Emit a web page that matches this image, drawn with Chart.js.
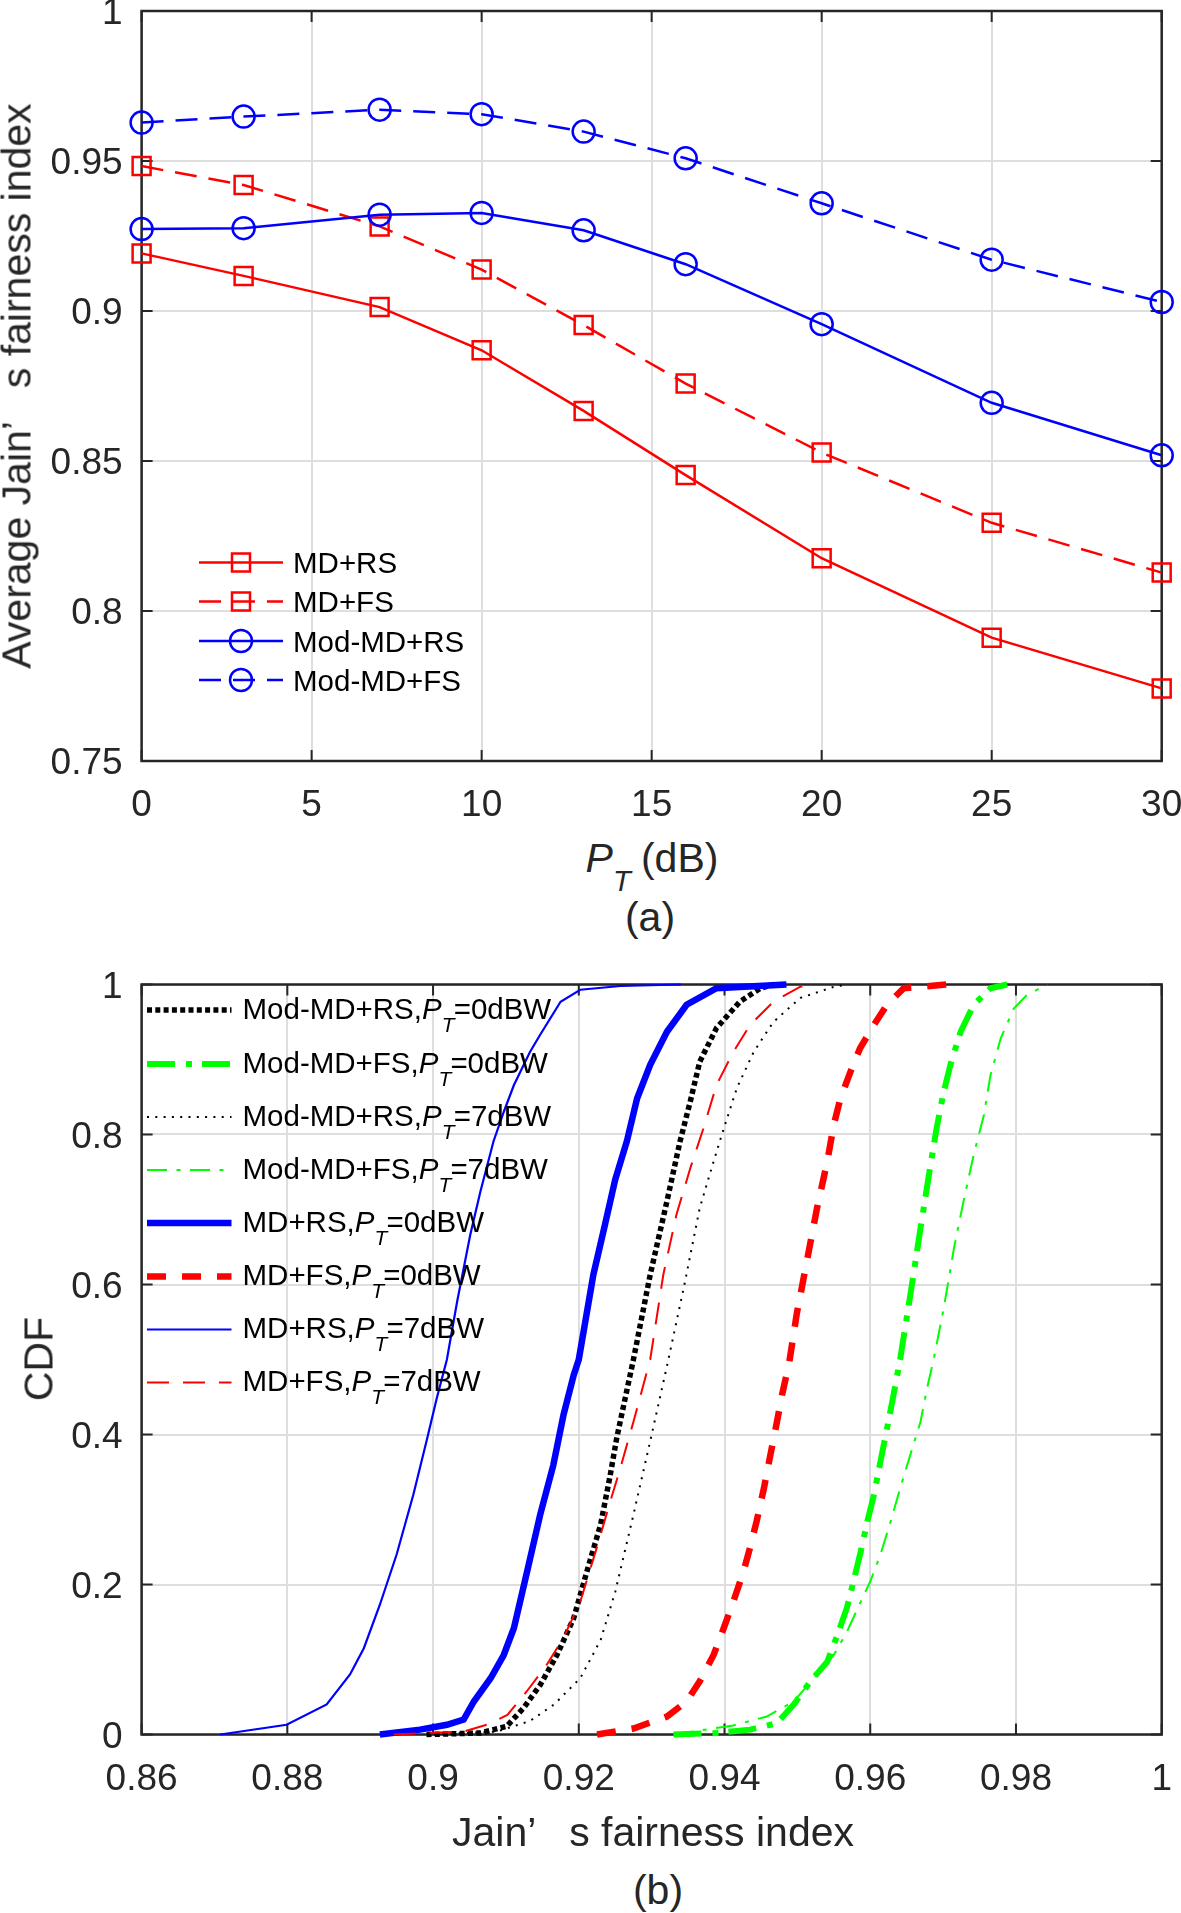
<!DOCTYPE html>
<html>
<head>
<meta charset="utf-8">
<script src="https://cdn.jsdelivr.net/npm/chart.js@4.4.1/dist/chart.umd.min.js"></script>
<style>
  body { margin: 0; background: #fff; }
  #page { position: relative; width: 1181px; height: 1913px; overflow: hidden; font-family: 'Liberation Sans', Arial, sans-serif; }
  canvas { position: absolute; left: 0; }
  .t { position: absolute; white-space: nowrap; line-height: 1; color: #000; }
  .leg { font-size: 29.5px; }
  .ttl { font-size: 41px; color: #262626; }
  .sub { font-style: italic; font-size: 0.71em; position: relative; top: 0.64em; margin-right: -0.04em; }
  .gap { display: inline-block; width: 0.8em; }
</style>
</head>
<body>
<div id="page">
  <canvas id="c1" width="1181" height="830" style="top:0"></canvas>
  <canvas id="c2" width="1181" height="870" style="top:940px"></canvas>

  <div class="t ttl" style="left:17px;top:386px;transform:translate(-50%,-50%) rotate(-90deg)">Average Jain’<span class="gap"></span>s fairness index</div>
  <div class="t ttl" style="left:652px;top:838px;transform:translateX(-50%)"><i>P</i><span class="sub">T</span> (dB)</div>
  <div class="t ttl" style="left:650px;top:897px;transform:translateX(-50%)">(a)</div>

  <div class="t ttl" style="left:39px;top:1359px;transform:translate(-50%,-50%) rotate(-90deg)">CDF</div>
  <div class="t ttl" style="left:653px;top:1812px;transform:translateX(-50%)">Jain’<span class="gap"></span>s fairness index</div>
  <div class="t ttl" style="left:658px;top:1870px;transform:translateX(-50%)">(b)</div>

  <div id="leg1"></div>
  <div id="leg2"></div>
</div>

<script>
const FONT = "'Liberation Sans', Arial, sans-serif"

// ---- (a) average fairness vs P_T ----
const ptValues = [0, 3, 7, 10, 13, 16, 20, 25, 30]
const mdRS = [0.9192, 0.9117, 0.9013, 0.8869, 0.8667, 0.8453, 0.8176, 0.7911, 0.7742]
const mdFS = [0.9483, 0.9420, 0.9282, 0.9138, 0.8953, 0.8758, 0.8528, 0.8294, 0.8128]
const modRS = [0.9273, 0.9276, 0.9321, 0.9327, 0.9269, 0.9156, 0.8956, 0.8694, 0.8519]
const modFS = [0.9628, 0.9648, 0.9671, 0.9656, 0.9598, 0.9509, 0.9359, 0.9171, 0.9030]
const topNames = ['MD+RS', 'MD+FS', 'Mod-MD+RS', 'Mod-MD+FS']
const topXTicks = [0, 5, 10, 15, 20, 25, 30]
const topXLabels = ['0', '5', '10', '15', '20', '25', '30']
const topYTicks = [0.75, 0.8, 0.85, 0.9, 0.95, 1]
const topYLabels = ['0.75', '0.8', '0.85', '0.9', '0.95', '1']

// ---- (b) CDF of fairness index ----
const modRS0X = [0.8991, 0.9065, 0.9101, 0.9124, 0.9147, 0.9170, 0.9193, 0.9211, 0.9230, 0.9243, 0.9252, 0.9275, 0.9298, 0.9321, 0.9339, 0.9353, 0.9366, 0.9389, 0.9421, 0.9449, 0.9467]
const modRS0Y = [0, 0.002, 0.011, 0.035, 0.066, 0.106, 0.155, 0.217, 0.28, 0.345, 0.395, 0.50, 0.613, 0.711, 0.791, 0.844, 0.897, 0.942, 0.977, 0.995, 1]
const modFS0X = [0.9330, 0.9389, 0.9435, 0.9472, 0.9495, 0.9518, 0.9541, 0.9555, 0.9568, 0.9577, 0.9587, 0.9596, 0.9605, 0.9614, 0.9623, 0.9632, 0.9641, 0.9655, 0.9669, 0.9682, 0.9691, 0.9700, 0.9710, 0.9724, 0.9742, 0.9765, 0.9788]
const modFS0Y = [0, 0.002, 0.0065, 0.015, 0.040, 0.071, 0.097, 0.133, 0.169, 0.204, 0.244, 0.284, 0.319, 0.364, 0.408, 0.453, 0.50, 0.586, 0.675, 0.755, 0.808, 0.853, 0.893, 0.937, 0.973, 0.995, 1]
const modRS7X = [0.9001, 0.9088, 0.9133, 0.9166, 0.9202, 0.9230, 0.9250, 0.9275, 0.9298, 0.9323, 0.9345, 0.9366, 0.9385, 0.9399, 0.9417, 0.9440, 0.9467, 0.9504, 0.9550, 0.9568]
const modRS7Y = [0, 0.004, 0.018, 0.040, 0.075, 0.126, 0.19, 0.293, 0.391, 0.50, 0.60, 0.702, 0.764, 0.808, 0.862, 0.91, 0.95, 0.982, 0.997, 1]
const modFS7X = [0.9330, 0.9412, 0.9458, 0.9495, 0.9527, 0.9550, 0.9568, 0.9587, 0.9600, 0.9614, 0.9628, 0.9641, 0.9655, 0.9669, 0.9678, 0.9687, 0.9701, 0.9715, 0.9728, 0.9742, 0.9756, 0.9765, 0.9779, 0.9797, 0.9815, 0.9843]
const modFS7Y = [0, 0.012, 0.024, 0.044, 0.080, 0.106, 0.137, 0.177, 0.204, 0.240, 0.284, 0.328, 0.373, 0.417, 0.462, 0.50, 0.569, 0.649, 0.711, 0.773, 0.826, 0.879, 0.928, 0.968, 0.986, 1]
const mdRS0X = [0.8927, 0.8982, 0.9019, 0.9042, 0.9056, 0.9079, 0.9097, 0.9111, 0.9129, 0.9147, 0.9165, 0.9179, 0.9193, 0.9200, 0.9220, 0.9236, 0.9250, 0.9266, 0.9280, 0.9298, 0.9321, 0.9348, 0.9389, 0.9485]
const mdRS0Y = [0, 0.0065, 0.013, 0.020, 0.044, 0.075, 0.106, 0.142, 0.217, 0.293, 0.359, 0.426, 0.479, 0.50, 0.613, 0.68, 0.74, 0.791, 0.848, 0.893, 0.937, 0.973, 0.995, 1]
const mdFS0X = [0.9225, 0.9275, 0.9321, 0.9348, 0.9366, 0.9385, 0.9399, 0.9412, 0.9426, 0.9435, 0.9444, 0.9454, 0.9463, 0.9472, 0.9479, 0.9489, 0.9499, 0.9513, 0.9527, 0.9541, 0.9550, 0.9559, 0.9573, 0.9586, 0.9605, 0.9623, 0.9646, 0.9705]
const mdFS0Y = [0, 0.008, 0.024, 0.044, 0.071, 0.106, 0.142, 0.177, 0.217, 0.249, 0.284, 0.328, 0.373, 0.417, 0.453, 0.497, 0.560, 0.631, 0.702, 0.764, 0.813, 0.848, 0.884, 0.915, 0.946, 0.973, 0.995, 1]
const mdRS7X = [0.8708, 0.8799, 0.8854, 0.8886, 0.8905, 0.8927, 0.8950, 0.8973, 0.8992, 0.9005, 0.9019, 0.9033, 0.9051, 0.9065, 0.9083, 0.9097, 0.9111, 0.9133, 0.9147, 0.9175, 0.9202, 0.9257, 0.9340]
const mdRS7Y = [0, 0.013, 0.040, 0.080, 0.115, 0.173, 0.240, 0.320, 0.395, 0.448, 0.50, 0.577, 0.666, 0.724, 0.791, 0.830, 0.866, 0.910, 0.933, 0.977, 0.993, 0.998, 1]
const mdFS7X = [0.8946, 0.9042, 0.9074, 0.9102, 0.9129, 0.9156, 0.9179, 0.9202, 0.9225, 0.9243, 0.9257, 0.9275, 0.9298, 0.9316, 0.9334, 0.9353, 0.9371, 0.9389, 0.9412, 0.9435, 0.9467, 0.9504, 0.9522]
const mdFS7Y = [0, 0.004, 0.013, 0.026, 0.058, 0.093, 0.129, 0.177, 0.25, 0.31, 0.355, 0.417, 0.50, 0.613, 0.693, 0.755, 0.808, 0.866, 0.91, 0.946, 0.977, 0.997, 1]
const cdfNames = ['Mod-MD+RS', 'Mod-MD+FS', 'Mod-MD+RS', 'Mod-MD+FS', 'MD+RS', 'MD+FS', 'MD+RS', 'MD+FS']
const cdfPowers = ['0', '0', '7', '7', '0', '0', '7', '7']
const botXTicks = [0.86, 0.88, 0.9, 0.92, 0.94, 0.96, 0.98, 1]
const botXLabels = ['0.86', '0.88', '0.9', '0.92', '0.94', '0.96', '0.98', '1']
const botYTicks = [0, 0.2, 0.4, 0.6, 0.8, 1]
const botYLabels = ['0', '0.2', '0.4', '0.6', '0.8', '1']

const pts = (xs, ys) => xs.map((x, i) => ({ x: x, y: ys[i] }))

function axes(xr, xTicks, xLabels, yr, yTicks, yLabels, xH, yW) {
  const tickFont = { family: FONT, size: 37 }
  const grid = { color: '#dedede', lineWidth: 2, drawTicks: false }
  return {
    x: {
      type: 'linear', min: xr[0], max: xr[1],
      afterBuildTicks: s => { s.ticks = xTicks.map(v => ({ value: v })) },
      afterFit: s => { s.height = xH; s.paddingLeft = 0; s.paddingRight = 0 },
      ticks: { padding: 23, font: tickFont, color: '#262626', maxRotation: 0, autoSkip: false, callback: (v, i) => xLabels[i] },
      grid: grid,
      border: { display: false }
    },
    y: {
      type: 'linear', min: yr[0], max: yr[1],
      afterBuildTicks: s => { s.ticks = yTicks.map(v => ({ value: v })) },
      afterFit: s => { s.width = yW; s.paddingTop = 0; s.paddingBottom = 0 },
      ticks: { padding: 19, labelOffset: 3, font: tickFont, color: '#262626', autoSkip: false, callback: (v, i) => yLabels[i] },
      grid: grid,
      border: { display: false }
    }
  }
}

// matlab style box with inward ticks
const boxPlugin = {
  id: 'mbox',
  beforeDatasetsDraw(chart) {
    const { ctx, chartArea: a, scales } = chart
    ctx.save()
    ctx.strokeStyle = '#262626'
    ctx.lineWidth = 2
    ctx.beginPath()
    scales.x.ticks.forEach(t => {
      const p = scales.x.getPixelForValue(t.value)
      ctx.moveTo(p, a.bottom); ctx.lineTo(p, a.bottom - 11)
      ctx.moveTo(p, a.top); ctx.lineTo(p, a.top + 11)
    })
    scales.y.ticks.forEach(t => {
      const p = scales.y.getPixelForValue(t.value)
      ctx.moveTo(a.left, p); ctx.lineTo(a.left + 11, p)
      ctx.moveTo(a.right, p); ctx.lineTo(a.right - 11, p)
    })
    ctx.stroke()
    ctx.lineWidth = 2.5
    ctx.strokeRect(a.left, a.top, a.right - a.left, a.bottom - a.top)
    ctx.restore()
  }
}

function drawMarker(ctx, style, x, y, color) {
  ctx.save()
  ctx.setLineDash([])
  ctx.strokeStyle = color
  ctx.lineWidth = 2.5
  ctx.beginPath()
  if (style === 'rect') ctx.rect(x - 9, y - 9, 18, 18)
  else ctx.arc(x, y, 11, 0, Math.PI * 2)
  ctx.stroke()
  ctx.restore()
}

function legendSamples(rows, x0, x1, withMarker) {
  return {
    id: 'legsamples',
    afterDatasetsDraw(chart) {
      const ctx = chart.ctx
      chart.data.datasets.forEach((ds, i) => {
        const y = rows[i]
        ctx.save()
        ctx.strokeStyle = ds.borderColor
        ctx.lineWidth = ds.borderWidth
        ctx.setLineDash(ds.borderDash || [])
        ctx.beginPath(); ctx.moveTo(x0, y); ctx.lineTo(x1, y); ctx.stroke()
        ctx.restore()
        if (withMarker) drawMarker(ctx, ds.pointStyle, (x0 + x1) / 2, y, ds.borderColor)
      })
    }
  }
}

// ---------- chart (a) ----------
const topStyles = [
  { color: '#ff0000', dash: [], marker: 'rect', r: 12.7 },
  { color: '#ff0000', dash: [22, 12], marker: 'rect', r: 12.7 },
  { color: '#0000ff', dash: [], marker: 'circle', r: 11 },
  { color: '#0000ff', dash: [22, 12], marker: 'circle', r: 11 }
]
const topSeries = [mdRS, mdFS, modRS, modFS]
const topRows = [562.5, 601.5, 641, 680]

new Chart(document.getElementById('c1'), {
  type: 'line',
  data: {
    datasets: topSeries.map((s, i) => ({
      label: topNames[i],
      data: pts(ptValues, s),
      borderColor: topStyles[i].color,
      borderWidth: 2.5,
      borderDash: topStyles[i].dash,
      pointStyle: topStyles[i].marker,
      pointRadius: topStyles[i].r,
      pointBorderWidth: 2.5,
      pointBorderColor: topStyles[i].color,
      pointBackgroundColor: 'rgba(0,0,0,0)',
      fill: false,
      tension: 0,
      clip: false,
      order: 4 - i
    }))
  },
  options: {
    responsive: false,
    devicePixelRatio: 1,
    animation: false,
    events: [],
    layout: { autoPadding: false, padding: { left: 0, right: 19.3, top: 11, bottom: 0 } },
    plugins: { legend: { display: false }, tooltip: { enabled: false } },
    scales: axes([0, 30], topXTicks, topXLabels, [0.75, 1], topYTicks, topYLabels, 69, 141.6)
  },
  plugins: [boxPlugin, legendSamples(topRows, 199, 283, true)]
})

// ---------- chart (b) ----------
const cdfX = [modRS0X, modFS0X, modRS7X, modFS7X, mdRS0X, mdFS0X, mdRS7X, mdFS7X]
const cdfY = [modRS0Y, modFS0Y, modRS7Y, modFS7Y, mdRS0Y, mdFS0Y, mdRS7Y, mdFS7Y]
const cdfStyles = [
  { color: '#000000', width: 5.5, dash: [5, 3.3] },
  { color: '#00ff00', width: 6, dash: [28, 11, 6, 10] },
  { color: '#000000', width: 2, dash: [2, 6.3] },
  { color: '#00ff00', width: 2, dash: [20, 9.5, 4, 9.5] },
  { color: '#0000ff', width: 6.5, dash: [] },
  { color: '#ff0000', width: 6.5, dash: [19, 16] },
  { color: '#0000ff', width: 2.2, dash: [] },
  { color: '#ff0000', width: 2, dash: [22, 14] }
]
const botOffset = 940
const botRows = [1010, 1064, 1117, 1170, 1223, 1276.5, 1329.5, 1382.5]

new Chart(document.getElementById('c2'), {
  type: 'line',
  data: {
    datasets: cdfX.map((xs, i) => ({
      label: cdfNames[i] + ',PT=' + cdfPowers[i] + 'dBW',
      data: pts(xs, cdfY[i]),
      borderColor: cdfStyles[i].color,
      borderWidth: cdfStyles[i].width,
      borderDash: cdfStyles[i].dash,
      pointRadius: 0,
      fill: false,
      tension: 0,
      clip: false,
      order: 8 - i
    }))
  },
  options: {
    responsive: false,
    devicePixelRatio: 1,
    animation: false,
    events: [],
    layout: { autoPadding: false, padding: { left: 0, right: 19.3, top: 44.5, bottom: 0 } },
    plugins: { legend: { display: false }, tooltip: { enabled: false } },
    scales: axes([0.86, 1], botXTicks, botXLabels, [0, 1], botYTicks, botYLabels, 75.5, 141.6)
  },
  plugins: [boxPlugin, legendSamples(botRows.map(y => y - botOffset), 147, 231.5, false)]
})

// legend texts
document.getElementById('leg1').innerHTML = topNames.map((n, i) =>
  `<div class="t leg" style="left:293px;top:${topRows[i] - 14.5}px">${n}</div>`).join('')
document.getElementById('leg2').innerHTML = cdfNames.map((n, i) =>
  `<div class="t leg" style="left:242.5px;top:${botRows[i] - 16.5}px">${n},<i>P</i><span class="sub">T</span>=${cdfPowers[i]}dBW</div>`).join('')
</script>
</body>
</html>
